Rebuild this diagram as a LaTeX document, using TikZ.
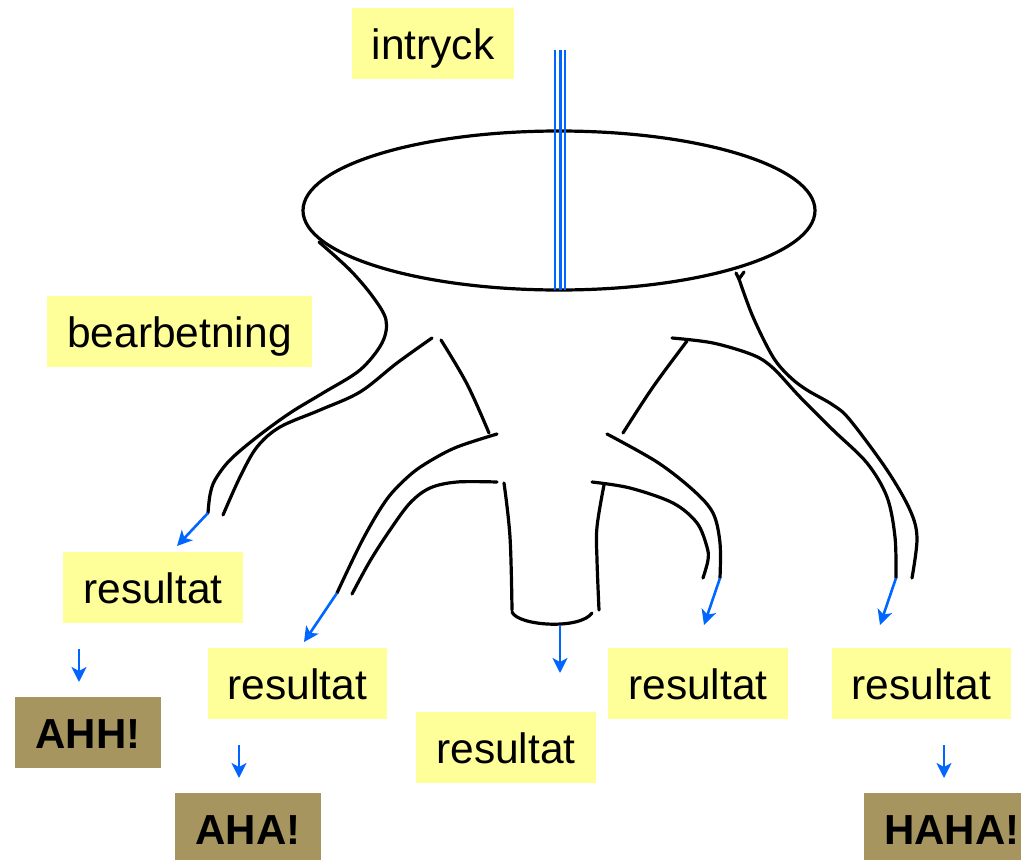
\documentclass[tikz,border=0pt]{standalone}
\usepackage{fontspec}
\setmainfont{Liberation Sans}
\usetikzlibrary{arrows.meta,shapes.geometric}
\definecolor{paleyellow}{RGB}{255,255,153}
\definecolor{khaki}{RGB}{166,149,94}
\definecolor{flowblue}{RGB}{0,102,255}
\tikzset{
  lbl/.style={fill=paleyellow, inner sep=0pt, font=\fontsize{42.5}{48}\selectfont,
    text height=32pt, text depth=0pt, minimum height=71pt},
  verdict/.style={fill=khaki, inner sep=0pt, font=\bfseries\fontsize{42}{48}\selectfont,
    text height=32pt, text depth=0pt, minimum height=71pt},
  funnel/.style={line width=3.2pt, line cap=round, line join=round},
  flow/.style={draw=flowblue, line width=2.6pt,
    -{Stealth[length=15pt,width=15pt,inset=4pt]}},
  beam/.style={draw=flowblue, line width=2.5pt},
}
\begin{document}
\begin{tikzpicture}[x=1pt,y=-1pt]
\useasboundingbox (0,0) rectangle (1021,860);
\clip (0,0) rectangle (1021,860);

% labels
\node[lbl, minimum width=162pt] (intryck) at (433,43.5) {intryck};
\node[lbl, minimum width=265pt] (bearb) at (179.5,331.5) {bearbetning};
\node[lbl, minimum width=180pt] (res1) at (153,587.5) {resultat};
\node[lbl, minimum width=179pt] (res2) at (297.5,683.5) {resultat};
\node[lbl, minimum width=180pt] (res3) at (506,747.5) {resultat};
\node[lbl, minimum width=180pt] (res4) at (698,683.5) {resultat};
\node[lbl, minimum width=179pt] (res5) at (921.5,683.5) {resultat};
\node[verdict, minimum width=146pt] (ahh) at (88,732.5) {AHH!};
\node[verdict, minimum width=146pt] (aha) at (248,828.5) {AHA!};
\node[verdict, minimum width=176pt] (haha) at (952,828.5) {HAHA!};

% the mouth of the funnel
\node[draw, line width=3.2pt, ellipse, minimum width=512pt, minimum height=159pt, inner sep=0pt] (mouth) at (559,210.5) {};

% incoming beam
\draw[beam] (555,50) -- (555,290);
\draw[beam] (560.5,50) -- (560.5,290);
\draw[beam] (564.8,50) -- (564.8,290);

% outer left branch
\draw[funnel] plot[smooth, tension=0.55] coordinates {(319,242) (350,270) (373,297) (386,320) (382,343) (360,370) (323,393) (290,413) (257,437) (230,460) (215,480) (210,495) (208,513)};
\coordinate (endA) at (208,513);
\draw[funnel] plot[smooth, tension=0.55] coordinates {(432,338) (397,363) (360,392) (320,410) (280,427) (257,447) (240,477) (223,515)};

% second left branch
\draw[funnel] plot[smooth, tension=0.6] coordinates {(441,340) (467,384) (489,433)};
\draw[funnel] plot[smooth, tension=0.55] coordinates {(497,434) (457,447) (430,461) (410,475) (387,499) (363,539) (337,593)};
\coordinate (endD) at (337,593);
\draw[funnel] plot[smooth, tension=0.55] coordinates {(497,482) (457,482) (430,488) (410,503) (390,530) (370,561) (352,594)};

% middle stem
\draw[funnel] plot[smooth, tension=0.6] coordinates {(504,483) (510,537) (512,610)};
\draw[funnel] (512,612) .. controls (518,626) and (580,630) .. (592,613);
\coordinate (endF) at (560,626);
\draw[funnel] plot[smooth, tension=0.6] coordinates {(604,485) (597,527) (597,560) (599,610)};

% second right branch
\draw[funnel] plot[smooth, tension=0.55] coordinates {(592,482) (630,488) (673,503) (697,523) (707,547) (708,560) (703,578)};
\draw[funnel] plot[smooth, tension=0.55] coordinates {(607,434) (657,462) (693,490) (713,513) (720,543) (720,578)};
\coordinate (endI) at (720,578);

% outer right branch
\draw[funnel] plot[smooth, tension=0.6] coordinates {(623,433) (653,387) (687,341)};
\draw[funnel] plot[smooth, tension=0.55] coordinates {(672,338) (713,343) (753,355) (773,368) (800,397) (833,430) (867,463) (887,497) (895,537) (896,578)};
\coordinate (endK) at (896,578);
\draw[funnel] plot[smooth, tension=0.55] coordinates {(739,279) (753,317) (773,357) (790,377) (807,390) (833,405) (850,420) (887,470) (910,510) (917,538) (912,578)};
\draw[funnel] (736,273) -- (739,279) -- (744,272);

% outgoing flows
\coordinate (tipA) at (177,546);
\coordinate (tipD) at (304,642);
\coordinate (tipF) at (560,673);
\coordinate (tipI) at (704,625);
\coordinate (tipK) at (880,625);
\draw[flow] (endA) -- (tipA);
\draw[flow] (endD) -- (tipD);
\draw[flow] (endF) -- (tipF);
\draw[flow] (endI) -- (tipI);
\draw[flow] (endK) -- (tipK);

% from results to reactions
\coordinate (r1a) at (79,649);  \coordinate (r1b) at (79,682);
\coordinate (r2a) at (239,745); \coordinate (r2b) at (239,778);
\coordinate (r5a) at (944,745); \coordinate (r5b) at (944,778);
\draw[flow] (r1a) -- (r1b);
\draw[flow] (r2a) -- (r2b);
\draw[flow] (r5a) -- (r5b);
\end{tikzpicture}
\end{document}
